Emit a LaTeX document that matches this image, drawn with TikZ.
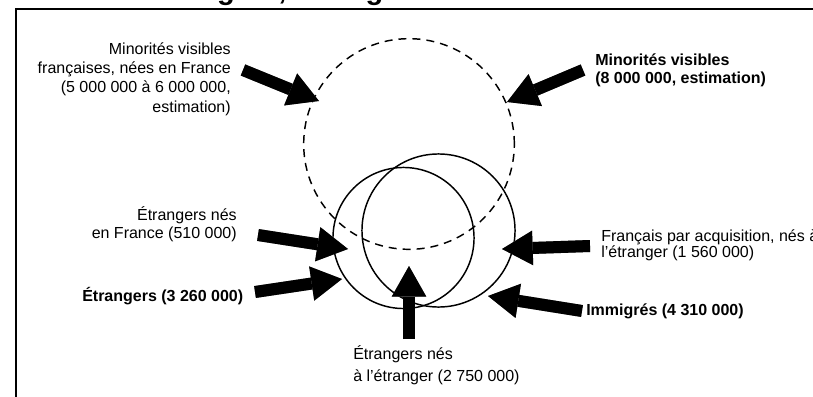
\documentclass[tikz,border=0pt]{standalone}
\usepackage{fontspec}
\setmainfont{Liberation Sans}
\usetikzlibrary{arrows.meta,positioning}
\definecolor{shadowgray}{RGB}{128,128,128}

\begin{document}
\begin{tikzpicture}[
  x=0.75pt, y=-0.75pt,
  label/.style={inner sep=0pt, font=\fontsize{12}{14.5}\selectfont},
  boldlabel/.style={inner sep=0pt, font=\fontsize{12}{13.5}\selectfont\bfseries},
  set/.style={circle, draw, line width=1.1pt, inner sep=0pt},
  blockarr/.style={line width=9pt, -{Triangle[length=23pt, width=26pt, line width=0pt]}},
  shadowarr/.style={blockarr, draw=shadowgray, shift={(3.2pt,-3.2pt)}}
]
  \useasboundingbox (0,0) rectangle (813,396);
  \clip (0,0) rectangle (813,396);

  % Frame and title (cut by the page edge)
  \draw[line width=1.5pt] (16,8.5) rectangle (840,420);
  \node[anchor=base west, inner sep=0pt, font=\fontsize{21.8}{26}\selectfont\bfseries]
    (title) at (149,-1) {Immigrés, étrangers};

  % Sets
  \node[set, dashed, dash pattern=on 6pt off 4.5pt, minimum size=158pt] (vis) at (409,144) {};
  \node[set, minimum size=105.8pt] (etr) at (403.5,238) {};
  \node[set, minimum size=114.8pt] (imm) at (438.5,230.5) {};

  % Labels (base = last line)
  \node[label, align=right, anchor=base east] (minfr) at (231,112)
    {Minorités visibles\\françaises, nées en France\\(5 000 000 à 6 000 000,\\estimation)};
  \node[boldlabel, align=left, anchor=base west] (minvis) at (595,83.5)
    {Minorités visibles\\(8 000 000, estimation)};
  \node[label, align=right, anchor=base east, font=\fontsize{12}{13.2}\selectfont] (etrfr) at (237,238.5)
    {Étrangers nés\\en France (510 000)};
  \node[boldlabel, anchor=base west] (etrlbl) at (82,301.5) {Étrangers (3 260 000)};
  \node[label, align=left, anchor=base west, font=\fontsize{12}{16.3}\selectfont] (etretr) at (353,381)
    {Étrangers nés\\à l’étranger (2 750 000)};
  \node[label, align=left, anchor=base west, font=\fontsize{12}{12}\selectfont] (fracq) at (601,257)
    {Français par acquisition, nés à\\l’étranger (1 560 000)};
  \node[boldlabel, anchor=base west] (immlbl) at (586,315) {Immigrés (4 310 000)};

  % Arrow ends
  \coordinate (minfr-tail) at (243,70);   \coordinate (minfr-tip) at (319,101);
  \coordinate (minvis-tail) at (583,70);  \coordinate (minvis-tip) at (507,102);
  \coordinate (etrfr-tail) at (258,235);  \coordinate (etrfr-tip) at (348,249);
  \coordinate (etr-tail) at (255,292);    \coordinate (etr-tip) at (342,279);
  \coordinate (etretr-tail) at (409,339); \coordinate (etretr-tip) at (409,266);
  \coordinate (fracq-tail) at (590,246);  \coordinate (fracq-tip) at (502,249);
  \coordinate (imm-tail) at (582,311);    \coordinate (imm-tip) at (488,296);

  % Arrows
  \foreach \src in {minfr, minvis, etrfr, etr, etretr, fracq, imm} {
    \draw[shadowarr] (\src-tail) -- (\src-tip);
  }
  \foreach \src in {minfr, minvis, etrfr, etr, etretr, fracq, imm} {
    \draw[blockarr] (\src-tail) -- (\src-tip);
  }
\end{tikzpicture}
\end{document}
